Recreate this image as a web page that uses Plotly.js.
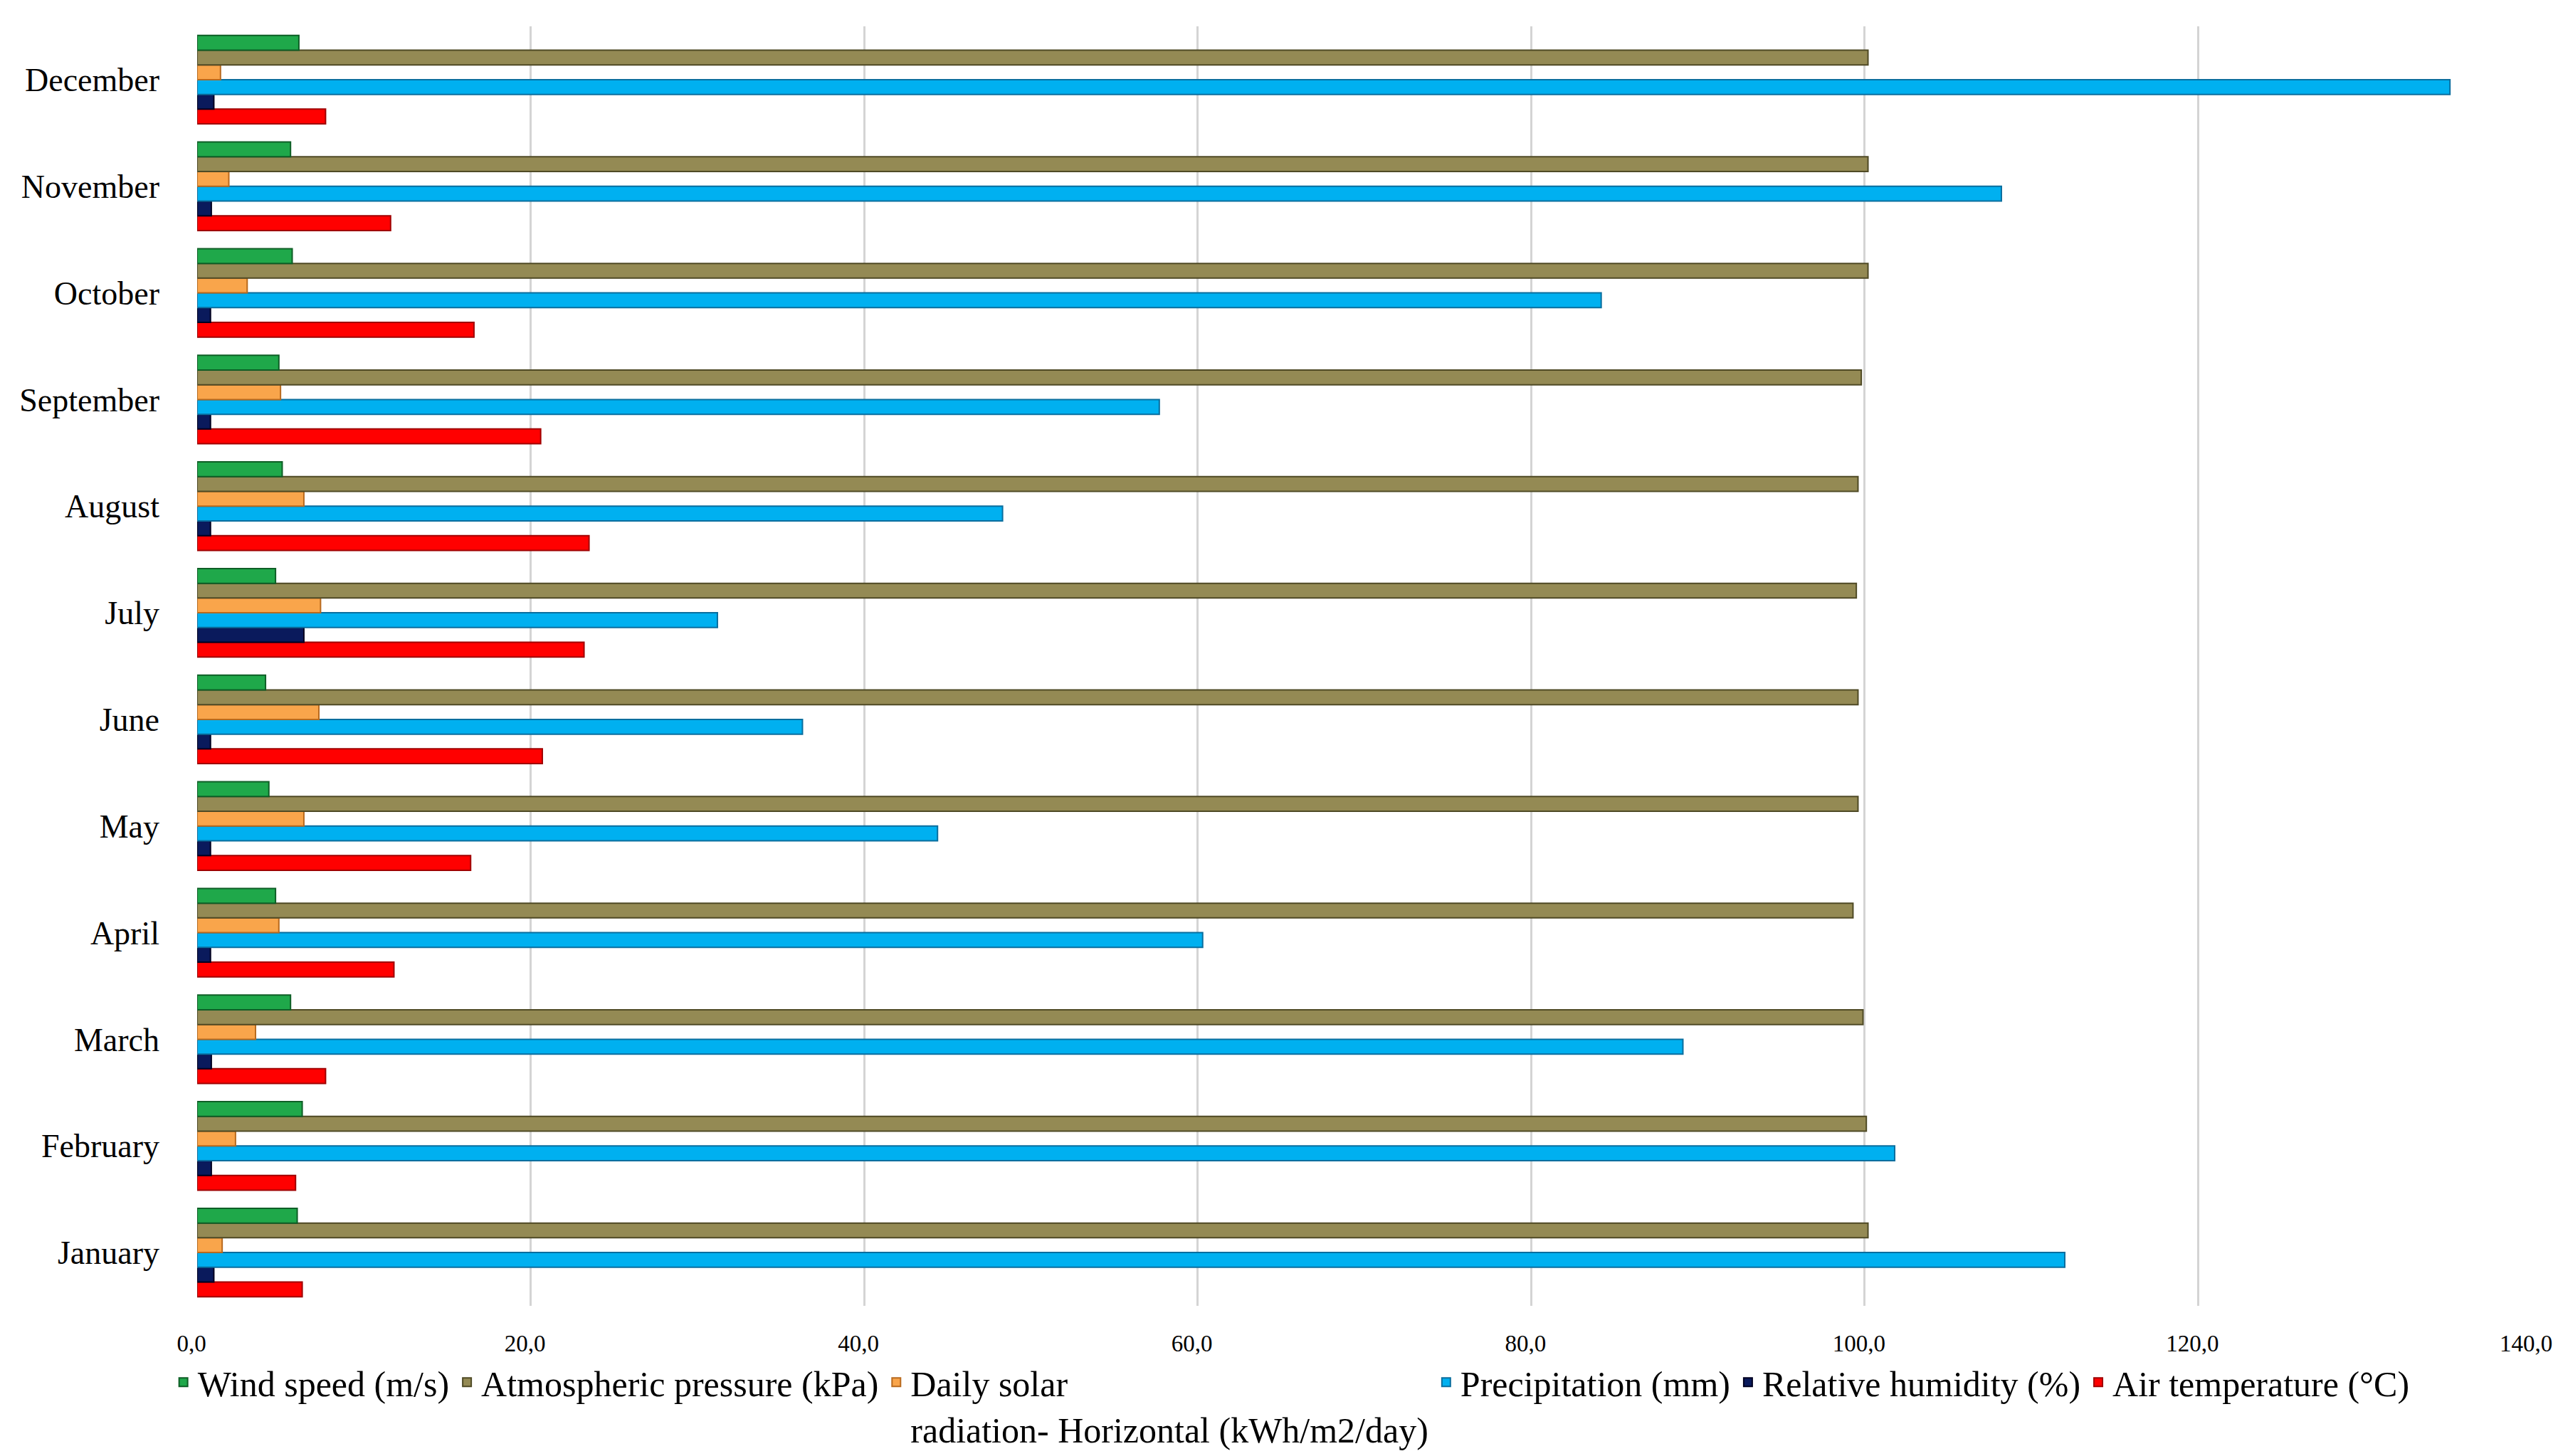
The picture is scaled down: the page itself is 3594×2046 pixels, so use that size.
<!DOCTYPE html>
<html>
<head>
<meta charset="utf-8">
<script src="https://cdn.plot.ly/plotly-3.0.1.min.js"></script>
<style>html,body{margin:0;padding:0;background:#fff;}#chart{width:3594px;height:2046px;}</style>
</head>
<body>
<div id="chart"></div>
<script>
const months = ["January","February","March","April","May","June","July","August","September","October","November","December"];
const windSpeed = [6.0, 6.3, 5.6, 4.7, 4.3, 4.1, 4.7, 5.1, 4.9, 5.7, 5.6, 6.1];
const pressure = [100.2, 100.1, 99.9, 99.3, 99.6, 99.6, 99.5, 99.6, 99.8, 100.2, 100.2, 100.2];
const solar = [1.5, 2.3, 3.5, 4.9, 6.4, 7.3, 7.4, 6.4, 5.0, 3.0, 1.9, 1.4];
const precipitation = [112.0, 101.8, 89.1, 60.3, 44.4, 36.3, 31.2, 48.3, 57.7, 84.2, 108.2, 135.1];
const humidity = [1.0, 0.85, 0.85, 0.8, 0.8, 0.8, 6.4, 0.8, 0.8, 0.8, 0.85, 1.0];
const airTemp = [6.3, 5.9, 7.7, 11.8, 16.4, 20.7, 23.2, 23.5, 20.6, 16.6, 11.6, 7.7];
const xTicks = [0, 20, 40, 60, 80, 100, 120, 140];

const seriesNames = ["Wind speed (m/s)", "Atmospheric pressure (kPa)", "Daily solar<br>radiation- Horizontal (kWh/m2/day)", "Precipitation (mm)", "Relative humidity (%)", "Air temperature (°C)"];
const seriesData = [windSpeed, pressure, solar, precipitation, humidity, airTemp];
const fills = ["#1FA84A", "#948A54", "#F9A54B", "#00B0F0", "#0A1A5C", "#FF0000"];
const edges = ["#0E5E26", "#4F4A25", "#B86A1E", "#0A6E9E", "#000020", "#A00000"];

const traces = [];
for (let i = seriesNames.length - 1; i >= 0; i--) {
  traces.push({
    type: "bar",
    orientation: "h",
    name: seriesNames[i],
    y: months,
    x: seriesData[i],
    marker: {color: fills[i], line: {color: edges[i], width: 2}},
    hoverinfo: "x+y+name"
  });
}

const layout = {
  width: 3594,
  height: 2046,
  paper_bgcolor: "#ffffff",
  plot_bgcolor: "#ffffff",
  separators: ", ",
  barmode: "group",
  bargap: 0.17,
  bargroupgap: 0,
  margin: {l: 277, r: 37, t: 37, b: 211, autoexpand: false},
  font: {family: "Liberation Serif, Times New Roman, serif", color: "#000000"},
  xaxis: {
    range: [0, 140],
    tickvals: xTicks,
    tickformat: ".1f",
    showgrid: true,
    gridcolor: "#d4d4d4",
    gridwidth: 3,
    zeroline: false,
    showline: false,
    ticks: "",
    ticklabelstandoff: 30,
    ticklabelshift: -8,
    ticklabeloverflow: "allow",
    tickfont: {size: 33, family: "Liberation Serif, serif", color: "#000"}
  },
  yaxis: {
    type: "category",
    categoryorder: "array",
    categoryarray: months,
    showgrid: false,
    zeroline: false,
    showline: false,
    ticks: "",
    ticklabelstandoff: 52,
    tickfont: {size: 46, family: "Liberation Serif, serif", color: "#000"}
  },
  showlegend: true,
  legend: {
    orientation: "h",
    traceorder: "reversed",
    x: -0.012,
    xanchor: "left",
    y: -0.038,
    yanchor: "top",
    valign: "top",
    font: {size: 50, family: "Liberation Serif, serif", color: "#000"},
    itemwidth: 30,
    tracegroupgap: 0
  }
};

Plotly.newPlot("chart", traces, layout, {displayModeBar: false, staticPlot: true});
</script>
</body>
</html>
